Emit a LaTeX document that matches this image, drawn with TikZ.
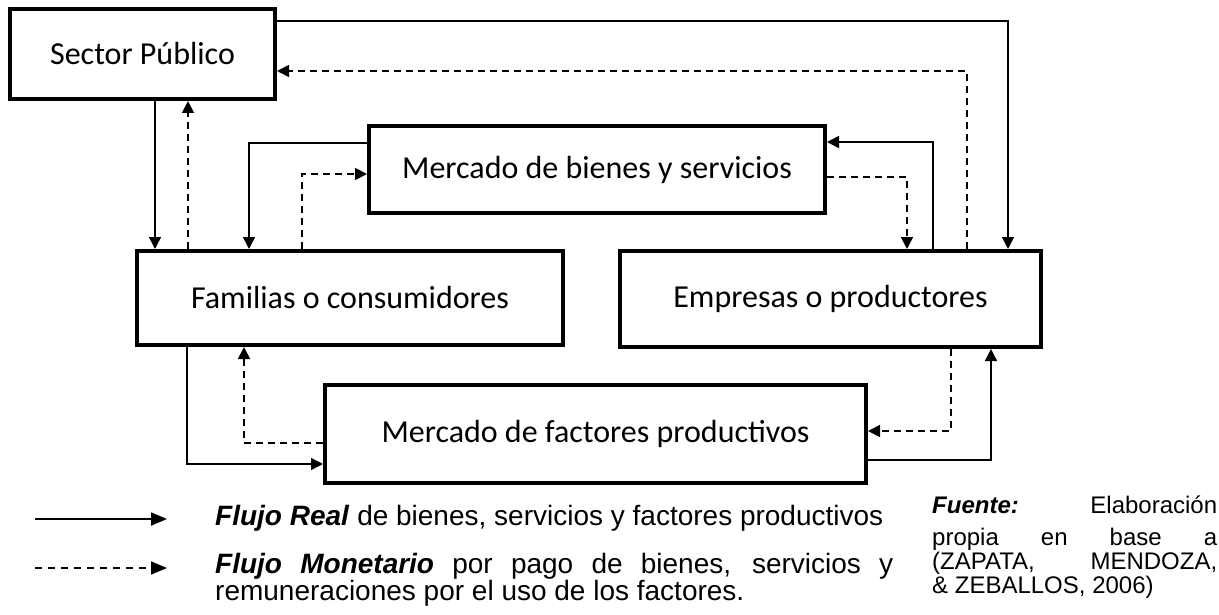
\documentclass[tikz,border=0pt]{standalone}
\usepackage{fontspec}
\setmainfont{Liberation Sans}
\newfontfamily\boxfont{Carlito}
\usetikzlibrary{arrows.meta}

\begin{document}
\begin{tikzpicture}[x=1pt,y=-1pt,
  box/.style={draw,line width=4pt,inner sep=0pt,font=\boxfont\fontsize{32}{36}\selectfont},
  real/.style={line width=1.5pt,-{Triangle[length=12pt,width=12pt]}},
  money/.style={line width=1.8pt,dash pattern=on 7pt off 5pt,-{Triangle[length=12pt,width=12pt]}},
  legend/.style={anchor=base west,inner sep=0pt,align=justify}]
  \useasboundingbox (0,0) rectangle (1219,615);
  % agentes y mercados
  \node[box,minimum width=265pt,minimum height=90pt] (sp) at (142.5,54) {Sector Público};
  \node[box,minimum width=456pt,minimum height=87pt] (mb) at (597,169.5) {Mercado de bienes y servicios};
  \node[box,minimum width=426pt,minimum height=94pt] (fam) at (350,298) {Familias o consumidores};
  \node[box,minimum width=421pt,minimum height=96pt] (emp) at (830.5,299) {Empresas o productores};
  \node[box,minimum width=541pt,minimum height=98pt] (fac) at (595.5,434) {Mercado de factores productivos};
  % sector publico
  \draw[real] (sp.east |- 0,21) -| (emp.north -| 1008,0);
  \draw[money] (emp.north -| 967,0) |- (sp.east |- 0,71);
  \draw[real] (sp.south -| 155,0) -- (fam.north -| 155,0);
  \draw[money] (fam.north -| 188,0) -- (sp.south -| 188,0);
  % mercado de bienes
  \draw[real] (mb.west |- 0,143) -| (fam.north -| 249,0);
  \draw[money] (fam.north -| 302,0) |- (mb.west |- 0,174);
  \draw[real] (emp.north -| 933,0) |- (mb.east |- 0,142);
  \draw[money] (mb.east |- 0,177) -| (emp.north -| 907,0);
  % mercado de factores
  \draw[real] (fam.south -| 187,0) |- (fac.west |- 0,464);
  \draw[money] (fac.west |- 0,443) -| (fam.south -| 244,0);
  \draw[money] (emp.south -| 951,0) |- (fac.east |- 0,431);
  \draw[real] (fac.east |- 0,460) -| (emp.south -| 991,0);
  % leyenda
  \coordinate (lr0) at (35,519);
  \coordinate (lr1) at (167,519);
  \coordinate (lm0) at (35,568);
  \coordinate (lm1) at (167,568);
  \draw[real,line width=1.8pt,-{Triangle[length=16pt,width=13pt]}] (lr0) -- (lr1);
  \draw[money,line width=1.6pt,dash pattern=on 7pt off 6pt,-{Triangle[length=16pt,width=13pt]}] (lm0) -- (lm1);
  \node[legend,text width=678pt,font=\fontsize{28}{24.5}\selectfont] (legreal) at (215,525)
    {\textbf{\textit{Flujo Real}} de bienes, servicios y factores productivos};
  \node[legend,text width=678pt,font=\fontsize{28}{24.5}\selectfont] (legmon) at (215,573)
    {\textbf{\textit{Flujo Monetario}} por pago de bienes, servicios y\linebreak remuneraciones por el uso de los factores.};
  \node[legend,text width=285pt,font=\fontsize{24}{24}\selectfont] (src) at (932,513)
    {\textbf{\textit{Fuente:}} Elaboración\vadjust{\vskip 8pt}\linebreak propia en base a\linebreak (ZAPATA, MENDOZA,\linebreak \& ZEBALLOS, 2006)};
\end{tikzpicture}
\end{document}
